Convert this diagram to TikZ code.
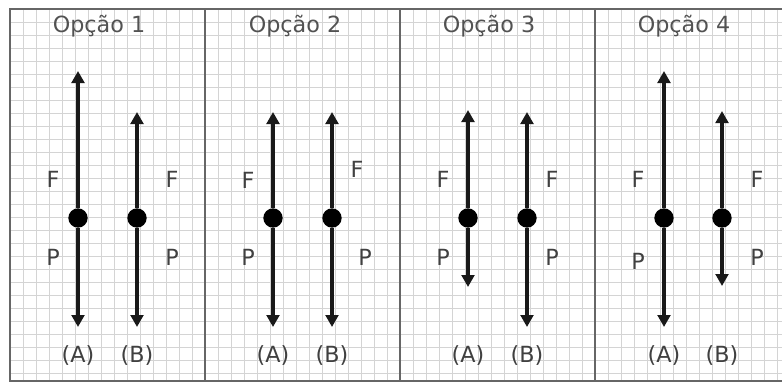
\documentclass[tikz,border=0pt]{standalone}
\usepackage{fontspec}
\setmainfont{DejaVu Sans}
\usetikzlibrary{arrows.meta}

\begin{document}
\begin{tikzpicture}[
    x=0.03cm, y=-0.03cm,
    font=\fontsize{19}{21}\selectfont,
    frameline/.style={draw=black!60, line width=1.6pt},
    gridline/.style={draw=black!17, line width=0.6pt},
    force/.style={-{Triangle[length=0.36cm, width=0.38cm]}, line width=2.6pt, draw=black!90},
    body/.style={circle, fill=black, inner sep=0pt, minimum size=0.58cm},
    title/.style={text=black!68, anchor=base},
    lbl/.style={text=black!75, inner sep=0pt}
]
    \useasboundingbox (0,0) rectangle (782,383);

    % graph paper
    \begin{scope}[shift={(10,9)}]
        \draw[gridline] (0,0) grid[step=0.39cm] (772,372);
    \end{scope}
    \draw[frameline] (782,9) -- (10,9) -- (10,381) -- (782,381);
    \draw[frameline] (205,9) -- (205,381);
    \draw[frameline] (400,9) -- (400,381);
    \draw[frameline] (595,9) -- (595,381);

    % titles
    \node[title] (op1) at (99,32) {Opção 1};
    \node[title] (op2) at (295,32) {Opção 2};
    \node[title] (op3) at (489,32) {Opção 3};
    \node[title] (op4) at (684,32) {Opção 4};

    % Opção 1
    \node[body] (a1) at (78,218) {};
    \node[body] (b1) at (137,218) {};
    \coordinate (fa1) at (78,71);
    \coordinate (pa1) at (78,327);
    \coordinate (fb1) at (137,112);
    \coordinate (pb1) at (137,327);
    \draw[force] (a1) -- (fa1);
    \draw[force] (a1) -- (pa1);
    \draw[force] (b1) -- (fb1);
    \draw[force] (b1) -- (pb1);
    \node[lbl] (lfa1) at (53,179) {F};
    \node[lbl] (lpa1) at (53,257) {P};
    \node[lbl] (lfb1) at (172,179) {F};
    \node[lbl] (lpb1) at (172,257) {P};
    \node[lbl] (ca1) at (78,356) {(A)};
    \node[lbl] (cb1) at (137,356) {(B)};

    % Opção 2
    \node[body] (a2) at (273,218) {};
    \node[body] (b2) at (332,218) {};
    \coordinate (fa2) at (273,112);
    \coordinate (pa2) at (273,327);
    \coordinate (fb2) at (332,112);
    \coordinate (pb2) at (332,327);
    \draw[force] (a2) -- (fa2);
    \draw[force] (a2) -- (pa2);
    \draw[force] (b2) -- (fb2);
    \draw[force] (b2) -- (pb2);
    \node[lbl] (lfa2) at (248,180) {F};
    \node[lbl] (lpa2) at (248,257) {P};
    \node[lbl] (lfb2) at (357,169) {F};
    \node[lbl] (lpb2) at (365,257) {P};
    \node[lbl] (ca2) at (273,356) {(A)};
    \node[lbl] (cb2) at (332,356) {(B)};

    % Opção 3
    \node[body] (a3) at (468,218) {};
    \node[body] (b3) at (527,218) {};
    \coordinate (fa3) at (468,110);
    \coordinate (pa3) at (468,287);
    \coordinate (fb3) at (527,112);
    \coordinate (pb3) at (527,327);
    \draw[force] (a3) -- (fa3);
    \draw[force] (a3) -- (pa3);
    \draw[force] (b3) -- (fb3);
    \draw[force] (b3) -- (pb3);
    \node[lbl] (lfa3) at (443,179) {F};
    \node[lbl] (lpa3) at (443,257) {P};
    \node[lbl] (lfb3) at (552,179) {F};
    \node[lbl] (lpb3) at (552,257) {P};
    \node[lbl] (ca3) at (468,356) {(A)};
    \node[lbl] (cb3) at (527,356) {(B)};

    % Opção 4
    \node[body] (a4) at (664,218) {};
    \node[body] (b4) at (722,218) {};
    \coordinate (fa4) at (664,71);
    \coordinate (pa4) at (664,327);
    \coordinate (fb4) at (722,111);
    \coordinate (pb4) at (722,286);
    \draw[force] (a4) -- (fa4);
    \draw[force] (a4) -- (pa4);
    \draw[force] (b4) -- (fb4);
    \draw[force] (b4) -- (pb4);
    \node[lbl] (lfa4) at (638,179) {F};
    \node[lbl] (lpa4) at (638,261) {P};
    \node[lbl] (lfb4) at (757,179) {F};
    \node[lbl] (lpb4) at (757,257) {P};
    \node[lbl] (ca4) at (664,356) {(A)};
    \node[lbl] (cb4) at (722,356) {(B)};
\end{tikzpicture}
\end{document}
